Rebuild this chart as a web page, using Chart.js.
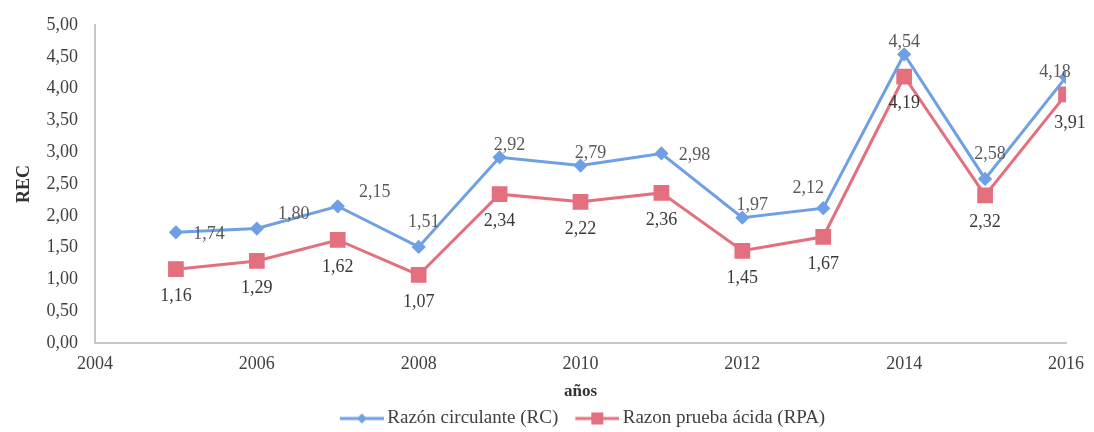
<!DOCTYPE html>
<html lang="es">
<head>
<meta charset="utf-8">
<title>REC</title>
<script src="https://cdn.jsdelivr.net/npm/chart.js@4/dist/chart.umd.min.js"></script>
<style>
  html, body { margin: 0; padding: 0; background: #fff; }
  #wrap { width: 1094px; height: 432px; }
</style>
</head>
<body>
<div id="wrap"><canvas id="myChart" width="1094" height="432"></canvas></div>
<script>
// Años y series
const years = [2005, 2006, 2007, 2008, 2009, 2010, 2011, 2012, 2013, 2014, 2015, 2016];
const razonCirculante = [1.74, 1.80, 2.15, 1.51, 2.92, 2.79, 2.98, 1.97, 2.12, 4.54, 2.58, 4.18];
const razonAcida = [1.16, 1.29, 1.62, 1.07, 2.34, 2.22, 2.36, 1.45, 1.67, 4.19, 2.32, 3.91];
const xTicks = [2004, 2006, 2008, 2010, 2012, 2014, 2016];
const yTicks = [0, 0.5, 1, 1.5, 2, 2.5, 3, 3.5, 4, 4.5, 5];

// Dónde va cada etiqueta respecto a su punto
const posRC = ['right', 'upRight', 'upRight', 'high', 'up', 'up', 'right', 'up', 'upLeft', 'up0', 'high', 'left'];
const posRPA = ['down', 'down', 'down', 'down', 'down', 'down', 'down', 'down', 'down', 'down', 'down', 'downR'];

const AZUL = '#6f9fe4';
const ROJO = '#e4707f';
const FUENTE = '"Liberation Serif", "Times New Roman", serif';

const OFFSETS = {
    right:   [33, 2],
    upRight: [37, -14],
    up:      [10, -12],
    up0:     [0, -12],
    high:    [5, -25],
    upLeft:  [-15, -20],
    left:    [-11, -5],
    down:    [0, 27],
    downR:   [4, 29]
};

const fmt = v => v.toFixed(2).replace('.', ',');

// icono de leyenda: hueco a la izquierda, luego línea con el marcador en medio
function iconoLeyenda(color, forma) {
    const c = document.createElement('canvas');
    c.width = 66; c.height = 16;
    const g = c.getContext('2d');
    g.strokeStyle = color;
    g.lineWidth = 3;
    g.beginPath(); g.moveTo(22, 8); g.lineTo(66, 8); g.stroke();
    g.fillStyle = color;
    g.beginPath();
    if (forma === 'diamante') {
        g.moveTo(44, 3); g.lineTo(49, 8); g.lineTo(44, 13); g.lineTo(39, 8);
    } else {
        g.rect(38, 2, 12, 12);
    }
    g.closePath(); g.fill();
    return c;
}

// etiquetas de valor sobre cada punto
const etiquetas = {
    id: 'etiquetas',
    afterDatasetsDraw(chart) {
        const ctx = chart.ctx;
        ctx.save();
        ctx.font = '18px ' + FUENTE;
        ctx.textAlign = 'center';
        ctx.textBaseline = 'middle';
        chart.data.datasets.forEach((ds, i) => {
            const meta = chart.getDatasetMeta(i);
            ctx.fillStyle = ds.labelColor;
            meta.data.forEach((pt, j) => {
                const [dx, dy] = OFFSETS[ds.labelPos[j]];
                ctx.fillText(fmt(ds.data[j].y), pt.x + dx, pt.y + dy);
            });
        });
        ctx.restore();
    }
};

// centra la leyenda bajo el área del gráfico y la baja un poco
const leyendaCentrada = {
    id: 'leyendaCentrada',
    afterLayout(chart) {
        const lg = chart.legend;
        const area = chart.chartArea;
        const shift = (area.left + area.right) / 2 - (lg.left + lg.right) / 2 - 6;
        lg.left += shift;
        lg.right += shift;
        lg.top += 6;
        lg.bottom += 6;
    }
};

const ctx = document.getElementById('myChart').getContext('2d');

let myChart = new Chart(ctx, {
    type: 'line',
    data: {
        datasets: [{
            label: 'Razón circulante (RC)',
            data: years.map((y, i) => ({ x: y, y: razonCirculante[i] })),
            borderColor: AZUL,
            backgroundColor: AZUL,
            borderWidth: 3,
            pointStyle: 'rectRot',
            pointRadius: 5,
            pointHoverRadius: 5,
            labelPos: posRC,
            labelColor: '#5a5a5a',
            icon: iconoLeyenda(AZUL, 'diamante')
        }, {
            label: 'Razon prueba ácida (RPA)',
            data: years.map((y, i) => ({ x: y, y: razonAcida[i] })),
            borderColor: ROJO,
            backgroundColor: ROJO,
            borderWidth: 3,
            pointStyle: 'rect',
            pointRadius: 9,
            pointHoverRadius: 9,
            labelPos: posRPA,
            labelColor: '#3a3a3a',
            icon: iconoLeyenda(ROJO, 'cuadro')
        }]
    },
    options: {
        responsive: false,
        animation: false,
        layout: { padding: { top: 25, right: 19, bottom: 0, left: 0 } },
        plugins: {
            tooltip: { enabled: false },
            legend: {
                position: 'bottom',
                labels: {
                    usePointStyle: true,
                    pointStyleWidth: 54,
                    padding: 1,
                    color: '#404040',
                    font: { family: FUENTE, size: 19 },
                    generateLabels(chart) {
                        return chart.data.datasets.map((ds, i) => ({
                            text: ds.label,
                            pointStyle: ds.icon,
                            fillStyle: ds.borderColor,
                            strokeStyle: ds.borderColor,
                            lineWidth: 0,
                            fontColor: '#404040',
                            datasetIndex: i
                        }));
                    }
                }
            }
        },
        scales: {
            x: {
                type: 'linear',
                min: 2004,
                max: 2016,
                afterBuildTicks: axis => { axis.ticks = xTicks.map(v => ({ value: v })); },
                afterFit: axis => { axis.height = 59; },
                grid: { display: false, drawTicks: false },
                border: { display: true, color: '#c8c8c8', width: 2 },
                ticks: {
                    padding: 10,
                    color: '#404040',
                    font: { family: FUENTE, size: 18 },
                    callback: v => String(v)
                },
                title: {
                    display: true,
                    text: 'años',
                    color: '#333',
                    padding: { top: 0, bottom: 0 },
                    font: { family: FUENTE, size: 17, weight: 'bold' }
                }
            },
            y: {
                min: 0,
                max: 5,
                afterBuildTicks: axis => { axis.ticks = yTicks.map(v => ({ value: v })); },
                afterFit: axis => { axis.width = 95; axis.paddingTop = 4; },
                grid: { display: false, drawTicks: false },
                border: { display: true, color: '#c8c8c8', width: 2 },
                ticks: {
                    padding: 17,
                    color: '#404040',
                    font: { family: FUENTE, size: 18 },
                    callback: v => fmt(v)
                },
                title: {
                    display: true,
                    text: 'REC',
                    color: '#333',
                    padding: { top: 14, bottom: 0 },
                    font: { family: FUENTE, size: 18, weight: 'bold' }
                }
            }
        }
    },
    plugins: [etiquetas, leyendaCentrada]
});
</script>
</body>
</html>
